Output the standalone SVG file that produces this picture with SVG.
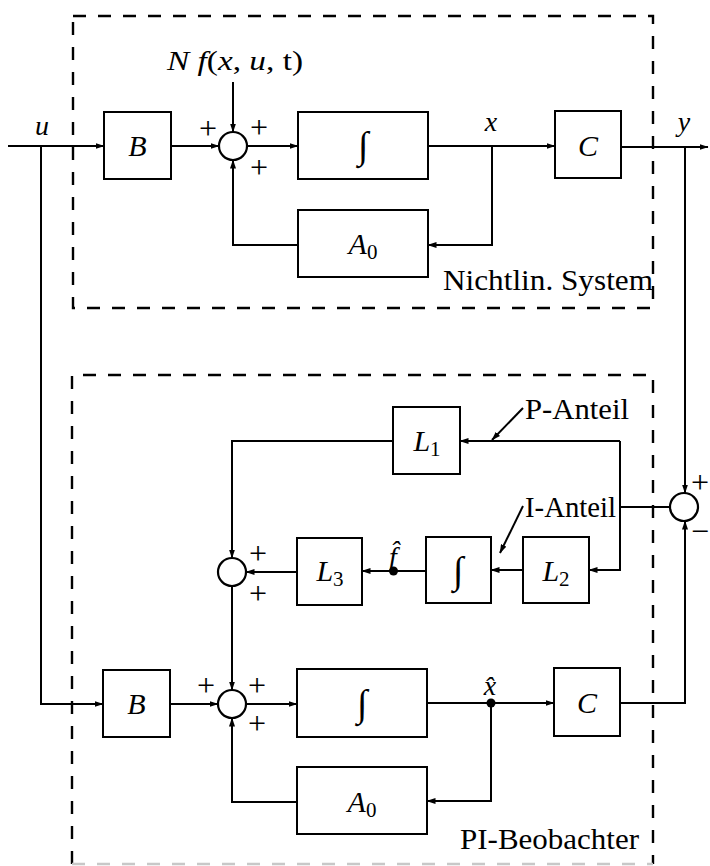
<svg xmlns="http://www.w3.org/2000/svg" width="710" height="866" viewBox="0 0 710 866">
<defs>
<marker id="ah" markerUnits="userSpaceOnUse" markerWidth="9" markerHeight="6" refX="8.5" refY="3" orient="auto">
<path d="M0,0 L9,3 L0,6 z" fill="#000"/>
</marker>
</defs>
<style>
.box{fill:#fff;stroke:#000;stroke-width:2}
.sum{fill:#fff;stroke:#000;stroke-width:2.2}
.ln{fill:none;stroke:#000;stroke-width:2}
.ar{fill:none;stroke:#000;stroke-width:2;marker-end:url(#ah)}
.dash{fill:none;stroke:#000;stroke-width:2.4;stroke-dasharray:13 12}
text{font-family:'Liberation Serif','Tinos','Times New Roman','DejaVu Serif',serif;fill:#000}
.m{font-style:italic;font-size:30px}
.v{font-style:italic;font-size:28px}
.r{font-size:29px}
.sub{font-style:normal;font-size:21px}
.sg{font-size:32px;text-anchor:middle}
.int{font-size:38px;font-style:italic;text-anchor:middle}
.c{text-anchor:middle}
</style>
<rect width="710" height="866" fill="#fff"/>

<g id="frames">
<rect id="frame-system" class="dash" x="73" y="16" width="580" height="292"/>
<path id="frame-observer" class="dash" d="M72,864 V375 H653 V864"/>
<path class="dash" d="M72,864 H653" style="stroke:#c8c8c8"/>
<text class="r" x="653" y="290" text-anchor="end" textLength="210" lengthAdjust="spacingAndGlyphs">Nichtlin. System</text>
<text class="r" x="639" y="849" text-anchor="end" textLength="179" lengthAdjust="spacingAndGlyphs">PI-Beobachter</text>
</g>

<g id="connectors">
<path class="ar" d="M8,146 H104"/>
<path class="ar" d="M41,146 V704 H103"/>
<path class="ar" d="M171,146 H219"/>
<path class="ar" d="M233,82 V132"/>
<path class="ar" d="M247,146 H298"/>
<path class="ar" d="M428,146 H555"/>
<path class="ar" d="M492,146 V245 H428"/>
<path class="ar" d="M298,245 H233 V160"/>
<path class="ar" d="M621,147 H708"/>
<path class="ar" d="M685,147 V493"/>

<path class="ar" d="M620,441 H460"/>
<path class="ar" d="M393,441 H232 V558"/>
<path class="ar" d="M620,441 V570 H589"/>
<path class="ln" d="M620,507 H670"/>
<path class="ar" d="M523,570 H491"/>
<path class="ar" d="M426,571 H362"/>
<path class="ar" d="M297,572 H246"/>
<path class="ar" d="M232,586 V690"/>
<path class="ar" d="M523,408 L492,440"/>
<path class="ar" d="M523,506 L500,553"/>

<path class="ar" d="M170,704 H218"/>
<path class="ar" d="M246,704 H297"/>
<path class="ar" d="M427,703 H554"/>
<path class="ar" d="M491,703 V801 H427"/>
<path class="ar" d="M297,802 H232 V718"/>
<path class="ar" d="M620,703 H685 V521"/>
<circle cx="393.5" cy="571" r="4.5" fill="#000"/>
<circle cx="491" cy="703" r="4.5" fill="#000"/>
</g>

<g id="labels">
<text class="v c" x="42" y="135">u</text>
<text class="v c" x="491" y="131">x</text>
<text class="v c" x="684" y="131">y</text>
<text class="v" x="167" y="70" textLength="136" lengthAdjust="spacingAndGlyphs">N f<tspan font-style="normal">(</tspan>x<tspan font-style="normal">, </tspan>u<tspan font-style="normal">, t)</tspan></text>
<text class="v c" x="393" y="566">f̂</text>
<text class="v c" x="490" y="695">x̂</text>
<text class="r" x="525" y="419" textLength="104" lengthAdjust="spacingAndGlyphs">P-Anteil</text>
<text class="r" x="525" y="517" textLength="91" lengthAdjust="spacingAndGlyphs">I-Anteil</text>
</g>

<g id="sum-top">
<circle class="sum" cx="233" cy="146" r="14"/>
<text class="sg" x="208" y="139">+</text>
<text class="sg" x="259" y="138">+</text>
<text class="sg" x="259" y="178">+</text>
</g>
<g id="sum-mid">
<circle class="sum" cx="232" cy="572" r="14"/>
<text class="sg" x="258" y="564">+</text>
<text class="sg" x="258" y="604">+</text>
</g>
<g id="sum-bot">
<circle class="sum" cx="232" cy="704" r="14"/>
<text class="sg" x="206" y="696">+</text>
<text class="sg" x="257" y="696">+</text>
<text class="sg" x="257" y="734">+</text>
</g>
<g id="sum-right">
<circle class="sum" cx="684" cy="507" r="14"/>
<text class="sg" x="700" y="493">+</text>
<text class="sg" x="700" y="542">−</text>
</g>

<g id="B-top"><rect class="box" x="104" y="112" width="67" height="67"/><text class="m c" x="137.5" y="156">B</text></g>
<g id="int-top"><rect class="box" x="298" y="112" width="130" height="67"/><text class="int" x="363" y="158">∫</text></g>
<g id="C-top"><rect class="box" x="555" y="111" width="66" height="67"/><text class="m c" x="588" y="156">C</text></g>
<g id="A0-top"><rect class="box" x="298" y="210" width="130" height="67"/><text class="m c" x="363" y="254">A<tspan class="sub" dy="5">0</tspan></text></g>

<g id="L1"><rect class="box" x="393" y="407" width="67" height="67"/><text class="m c" x="427" y="451">L<tspan class="sub" dy="5">1</tspan></text></g>
<g id="L3"><rect class="box" x="297" y="538" width="65" height="67"/><text class="m c" x="330" y="581">L<tspan class="sub" dy="5">3</tspan></text></g>
<g id="int-mid"><rect class="box" x="426" y="537" width="65" height="66"/><text class="int" x="458" y="583">∫</text></g>
<g id="L2"><rect class="box" x="523" y="537" width="66" height="66"/><text class="m c" x="556" y="581">L<tspan class="sub" dy="5">2</tspan></text></g>

<g id="B-bot"><rect class="box" x="103" y="670" width="67" height="67"/><text class="m c" x="136.5" y="714">B</text></g>
<g id="int-bot"><rect class="box" x="297" y="669" width="130" height="68"/><text class="int" x="362" y="716">∫</text></g>
<g id="C-bot"><rect class="box" x="554" y="668" width="66" height="68"/><text class="m c" x="587" y="713">C</text></g>
<g id="A0-bot"><rect class="box" x="297" y="767" width="130" height="67"/><text class="m c" x="362" y="812">A<tspan class="sub" dy="5">0</tspan></text></g>
</svg>
